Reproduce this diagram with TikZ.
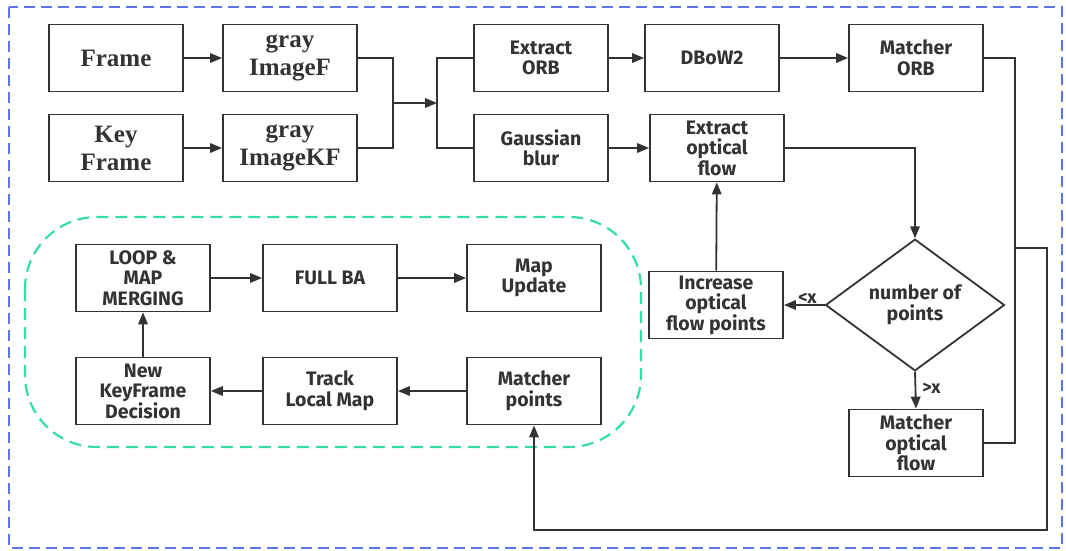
\documentclass[tikz,border=0pt]{standalone}
\usepackage{fontspec}
\setmainfont{Liberation Serif}
\newfontfamily\boxfont{Fira Sans}
\usepackage{xcolor}
\usepackage{tikz}
\usetikzlibrary{shapes.geometric, arrows.meta, positioning}
\definecolor{linegray}{RGB}{51,51,51}
\definecolor{frameblue}{RGB}{92,116,232}
\definecolor{groupgreen}{RGB}{52,222,162}
\tikzset{
  block/.style={rectangle, draw=linegray, line width=1.8pt, minimum width=134pt, minimum height=67pt, align=center, inner sep=1pt, text=linegray, font=\boxfont\bfseries\fontsize{19.5}{20.5}\selectfont},
  srcblock/.style={block, font=\bfseries\fontsize{25}{28}\selectfont},
  decision/.style={diamond, draw=linegray, line width=1.8pt, minimum width=179pt, minimum height=129pt, inner sep=0pt, align=center, text=linegray, font=\boxfont\bfseries\fontsize{19.5}{20.5}\selectfont},
  arrow/.style={-{Triangle[length=12pt, width=9.5pt]}, line width=1.8pt, draw=linegray},
  wire/.style={line width=1.8pt, draw=linegray},
  cond/.style={text=linegray, font=\boxfont\bfseries\fontsize{18}{20}\selectfont, inner sep=1pt},
}
\begin{document}
\begin{tikzpicture}[x=1pt, y=-1pt]
  \useasboundingbox (0,0) rectangle (1066,550);
  % outer frame
  \draw[frameblue, line width=2pt, dash pattern=on 11pt off 6pt] (9,7) rectangle (1062,548);

  % input images
  \node[srcblock] (frame) at (116,58) {Frame};
  \node[srcblock] (grayF) at (290,58) {gray\\ImageF};
  \node[srcblock] (keyframe) at (116,148) {Key\\Frame};
  \node[srcblock] (grayKF) at (290,148) {gray\\ImageKF};
  \coordinate (merge) at (393,103);
  \coordinate (split) at (437,103);

  % feature branch
  \node[block] (orb) at (541,58) {Extract\\ORB};
  \node[block] (dbow) at (712,58) {DBoW2};
  \node[block] (matchorb) at (916,58) {Matcher\\ORB};

  % optical flow branch
  \node[block] (blur) at (541,148) {Gaussian\\blur};
  \node[block] (flow) at (717,148) {Extract\\optical\\flow};
  \node[decision] (count) at (915,305) {number of\\points};
  \node[block] (more) at (716,305) {Increase\\optical\\flow points};
  \node[block] (matchflow) at (916,443) {Matcher\\optical\\flow};

  % mapping group
  \draw[groupgreen, line width=2.2pt, dash pattern=on 12pt off 7pt, rounded corners=72pt] (25,217) rectangle (641,447);
  \node[block] (loop) at (143,278) {LOOP \&\\MAP\\MERGING};
  \node[block] (fullba) at (330,278) {FULL BA};
  \node[block] (update) at (534,278) {Map\\Update};
  \node[block] (newkf) at (143,391) {New\\KeyFrame\\Decision};
  \node[block] (track) at (330,391) {Track\\Local Map};
  \node[block] (matchpts) at (534,391) {Matcher\\points};

  % connections
  \draw[arrow] (frame) -- (grayF);
  \draw[arrow] (keyframe) -- (grayKF);
  \draw[wire] (grayF.east) -| (merge) |- (grayKF.east);
  \draw[arrow] (merge) -- (split);
  \draw[wire] (orb.west) -| (split) |- (blur.west);
  \draw[arrow] (orb) -- (dbow);
  \draw[arrow] (dbow) -- (matchorb);
  \draw[arrow] (blur) -- (flow);
  \draw[arrow] (flow.east) -| (count.north);
  \draw[arrow] (count.west) -- node[cond, above, pos=0.42] {<x} (more.east);
  \draw[arrow] (count.south) -- node[cond, right, pos=0.45, xshift=5pt] {>x} (matchflow.north);
  \draw[arrow] (more) -- (flow);

  % return path
  \coordinate (busend) at (1015,443);
  \coordinate (bustap) at (1015,248);
  \coordinate (loopback) at (1047,530);
  \draw[wire] (matchorb.east) -| (busend) -- (matchflow.east);
  \draw[arrow] (bustap) -| (loopback) -| (matchpts.south);

  % local mapping chain
  \draw[arrow] (matchpts) -- (track);
  \draw[arrow] (track) -- (newkf);
  \draw[arrow] (newkf) -- (loop);
  \draw[arrow] (loop) -- (fullba);
  \draw[arrow] (fullba) -- (update);
\end{tikzpicture}
\end{document}
